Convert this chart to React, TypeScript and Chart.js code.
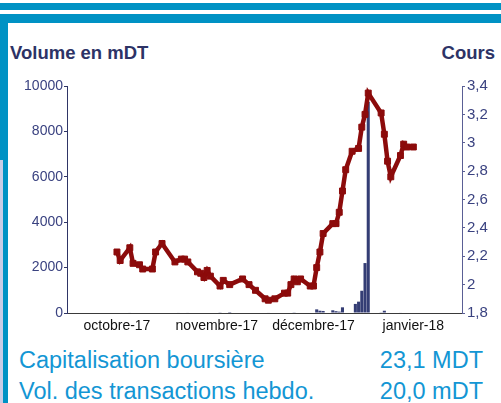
import React, { useEffect, useRef } from "react";
import { Chart, registerables } from "chart.js";

Chart.register(...registerables);

// ---------- data ----------
const originDate = "2017-10-01";
const monthStarts = ["2017-10-01", "2017-11-01", "2017-12-01", "2018-01-01"];
const monthLabels = ["octobre-17", "novembre-17", "décembre-17", "janvier-18"];
const xMinDay = -15.5;
const xMaxDay = 107.1;

const priceDates = [
  "2017-10-01", "2017-10-02", "2017-10-05", "2017-10-06", "2017-10-08", "2017-10-09",
  "2017-10-12", "2017-10-13", "2017-10-15", "2017-10-19", "2017-10-21", "2017-10-22",
  "2017-10-23", "2017-10-26", "2017-10-27", "2017-10-28", "2017-10-29", "2017-10-30",
  "2017-11-02", "2017-11-03", "2017-11-05", "2017-11-09", "2017-11-11", "2017-11-13",
  "2017-11-16", "2017-11-17", "2017-11-19", "2017-11-22", "2017-11-23", "2017-11-24",
  "2017-11-25", "2017-11-26", "2017-11-27", "2017-11-30", "2017-12-01", "2017-12-02",
  "2017-12-03", "2017-12-04", "2017-12-07", "2017-12-08", "2017-12-09", "2017-12-10",
  "2017-12-11", "2017-12-13", "2017-12-15", "2017-12-16", "2017-12-17", "2017-12-18",
  "2017-12-22", "2017-12-23", "2017-12-24", "2017-12-25", "2017-12-28", "2017-12-29",
  "2017-12-30", "2018-01-01",
];
const priceValues = [
  2.23, 2.17, 2.26, 2.15, 2.14, 2.11, 2.11, 2.23, 2.29,
  2.16, 2.18, 2.18, 2.16, 2.09, 2.08, 2.05, 2.1, 2.06,
  1.99, 2.03, 2.0, 2.04, 2.0, 1.96, 1.9, 1.89, 1.9,
  1.94, 1.94, 2.0, 2.04, 2.02, 2.04, 1.99, 1.99,
  2.12, 2.23, 2.36, 2.43, 2.43, 2.51, 2.66, 2.81,
  2.94, 2.96, 3.11, 3.2, 3.35,
  3.21, 3.06, 2.87, 2.76, 2.91, 2.99, 2.97, 2.97,
];

const volumeDates = [
  "2017-10-05", "2017-10-20", "2017-10-23", "2017-11-02", "2017-11-05", "2017-11-17",
  "2017-11-25", "2017-12-02", "2017-12-03", "2017-12-04", "2017-12-07", "2017-12-08",
  "2017-12-09", "2017-12-10", "2017-12-14", "2017-12-15", "2017-12-16", "2017-12-17",
  "2017-12-18", "2017-12-22", "2017-12-23", "2017-12-28",
];
const volumeValues = [
  20, 20, 20, 30, 40, 20,
  30, 160, 100, 90, 120, 80,
  60, 250, 400, 500, 980, 2200,
  9300, 30, 100, 20,
];

const volumeTicks = { min: 0, max: 10000, step: 2000 };
const priceTicks = { min: 1.8, max: 3.4, step: 0.2 };

const capLabel = "Capitalisation boursière";
const capValue = "23,1 MDT";
const volLabel = "Vol. des transactions hebdo.";
const volValue = "20,0 mDT";

// ---------- helpers ----------
const dayOf = (d: string) => {
  const [y, m, dd] = d.split("-").map(Number);
  const [oy, om, od] = originDate.split("-").map(Number);
  return (Date.UTC(y, m - 1, dd) - Date.UTC(oy, om - 1, od)) / 86400000;
};

const FONT = "'Liberation Sans', Arial, sans-serif";
const NAVY = "#3a4280";
const BLUE = "#0092c4";
const TEXTBLUE = "#1396d4";

export default function App() {
  const ref = useRef<HTMLCanvasElement | null>(null);

  useEffect(() => {
    if (!ref.current) return;
    Chart.defaults.font.family = FONT;
    const monthDays = monthStarts.map(dayOf);
    const chart = new Chart(ref.current, {
      type: "bar",
      data: {
        datasets: [
          {
            type: "line",
            label: "Cours",
            data: priceDates.map((d, i) => ({ x: dayOf(d), y: priceValues[i] })),
            yAxisID: "yPrice",
            borderColor: "#8c0b0b",
            backgroundColor: "#8c0b0b",
            borderWidth: 4.5,
            pointStyle: "rect",
            pointRadius: 4.2,
            pointBorderWidth: 1,
            pointBorderColor: "#8c0b0b",
            pointBackgroundColor: "#8c0b0b",
            tension: 0,
            order: 0,
          } as any,
          {
            type: "bar",
            label: "Volume",
            data: volumeDates.map((d, i) => ({ x: dayOf(d), y: volumeValues[i] })),
            yAxisID: "yVol",
            backgroundColor: "#343d74",
            borderWidth: 0,
            barPercentage: 0.95,
            categoryPercentage: 1,
            order: 1,
          } as any,
        ],
      },
      options: {
        animation: false,
        responsive: false,
        devicePixelRatio: 1,
        layout: { padding: { top: 16, left: 0, right: 0, bottom: 0 } },
        plugins: { legend: { display: false }, tooltip: { enabled: false } },
        scales: {
          x: {
            type: "linear",
            offset: false,
            min: xMinDay,
            max: xMaxDay,
            afterBuildTicks: (s: any) => {
              s.ticks = monthDays.map((v) => ({ value: v }));
            },
            afterFit: (s: any) => {
              s.height = 27;
            },
            ticks: {
              autoSkip: false,
              maxRotation: 0,
              padding: 5,
              color: "#111111",
              font: { size: 14, family: FONT },
              callback: (_v: any, i: number) => monthLabels[i],
            },
            grid: { display: false, drawTicks: false },
            border: { display: true, color: "#3a3a3a", width: 1 },
          },
          yVol: {
            type: "linear",
            position: "left",
            min: volumeTicks.min,
            max: volumeTicks.max,
            afterFit: (s: any) => {
              s.width = 67;
            },
            ticks: {
              stepSize: volumeTicks.step,
              padding: 1,
              color: NAVY,
              font: { size: 14, family: FONT },
              callback: (v: any) => String(v),
            },
            grid: { display: true, drawOnChartArea: false, drawTicks: true, tickLength: 3, color: "#2f3566" },
            border: { display: true, color: "#2f3566", width: 1 },
          },
          yPrice: {
            type: "linear",
            position: "right",
            min: priceTicks.min,
            max: priceTicks.max,
            afterFit: (s: any) => {
              s.width = 39;
            },
            ticks: {
              stepSize: priceTicks.step,
              padding: 2,
              color: NAVY,
              font: { size: 15, family: FONT },
              callback: (v: any) => String(Math.round(Number(v) * 10) / 10).replace(".", ","),
            },
            grid: { display: true, drawOnChartArea: false, drawTicks: true, tickLength: 3, color: "#5a5f95" },
            border: { display: true, color: "#5a5f95", width: 1 },
          },
        },
      } as any,
    });
    return () => chart.destroy();
  }, []);

  const abs = (s: React.CSSProperties): React.CSSProperties => ({ position: "absolute", ...s });

  return (
    <div
      style={{
        position: "fixed",
        left: 0,
        top: 0,
        width: 501,
        height: 403,
        background: "#ffffff",
        overflow: "hidden",
        fontFamily: FONT,
      }}
    >
      <div style={abs({ left: 0, top: 3, width: 501, height: 7, background: BLUE })} />
      <div style={abs({ left: 0, top: 14, width: 501, height: 9, background: BLUE })} />
      <div style={abs({ left: 0, top: 14, width: 8, height: 150, background: BLUE })} />
      <div style={abs({ left: 3, top: 160, width: 5, height: 243, background: BLUE })} />
      <div style={abs({ left: 0, top: 160, width: 3, height: 243, background: "#c9cde6" })} />

      <div
        style={abs({
          left: 10,
          top: 44.3,
          fontSize: 18.5,
          lineHeight: "18.5px",
          fontWeight: "bold",
          color: "#2d3366",
          whiteSpace: "nowrap",
        })}
      >
        Volume en mDT
      </div>
      <div
        style={abs({
          right: 6,
          top: 44.3,
          fontSize: 18.5,
          lineHeight: "18.5px",
          fontWeight: "bold",
          color: "#2d3366",
          whiteSpace: "nowrap",
        })}
      >
        Cours
      </div>

      <canvas ref={ref} width={501} height={270} style={abs({ left: 0, top: 70, width: 501, height: 270 })} />

      <div style={abs({ left: 19, top: 348.5, fontSize: 23.5, lineHeight: "23.5px", color: TEXTBLUE, whiteSpace: "nowrap" })}>
        {capLabel}
      </div>
      <div style={abs({ right: 18, top: 348.5, fontSize: 23.5, lineHeight: "23.5px", color: TEXTBLUE, whiteSpace: "nowrap" })}>
        {capValue}
      </div>
      <div style={abs({ left: 19, top: 379.5, fontSize: 23.5, lineHeight: "23.5px", color: TEXTBLUE, whiteSpace: "nowrap" })}>
        {volLabel}
      </div>
      <div style={abs({ right: 18, top: 379.5, fontSize: 23.5, lineHeight: "23.5px", color: TEXTBLUE, whiteSpace: "nowrap" })}>
        {volValue}
      </div>
    </div>
  );
}
